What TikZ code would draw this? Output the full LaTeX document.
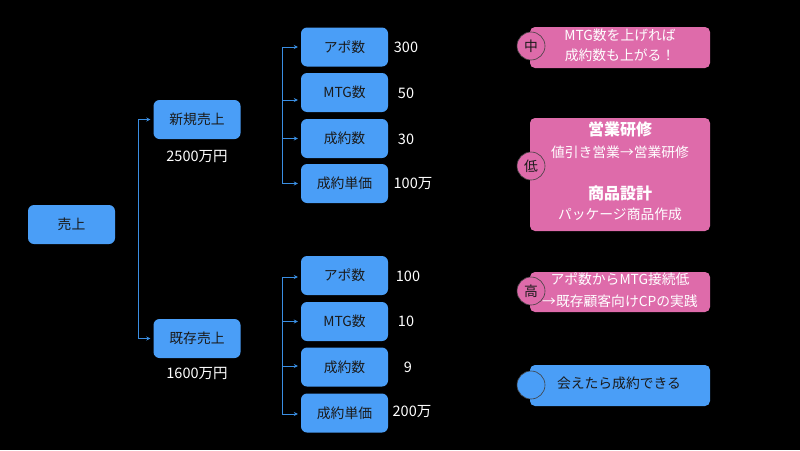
\documentclass[tikz,border=0pt]{standalone}
\usepackage{fontspec}
\setmainfont{Noto Sans CJK JP}
\usetikzlibrary{arrows.meta}
\definecolor{bx}{HTML}{4A9EF7}
\definecolor{ln}{HTML}{3A8EE2}
\definecolor{pk}{HTML}{DE6BAA}
\definecolor{dk}{HTML}{1A1A1A}
\tikzset{
  box/.style={fill=bx, rounded corners=6pt, minimum width=87pt, minimum height=39pt, inner sep=0pt, text=dk, font=\fontsize{13.8}{16}\selectfont},
  num/.style={text=white, inner sep=0pt, font=\fontsize{14.5}{17}\selectfont},
  note/.style={rounded corners=5pt, minimum width=180pt, inner sep=0pt},
  badge/.style={circle, minimum size=28pt, inner sep=0pt, draw=black!75, line width=0.6pt, text=dk, font=\fontsize{13.8}{16}\selectfont},
  wtxt/.style={text=white, inner sep=0pt, font=\fontsize{13.8}{16}\selectfont},
  btxt/.style={text=white, inner sep=0pt, font=\fontsize{16}{19}\bfseries\selectfont},
  bline/.style={draw=ln, line width=0.8pt},
  arr/.style={draw=ln, line width=0.8pt, -{Stealth[length=4pt,width=4pt]}, shorten >=3pt},
}
\begin{document}
\begin{tikzpicture}[x=1pt,y=-1pt]
\fill[black] (0,0) rectangle (800,450);
\useasboundingbox (0,0) rectangle (800,450);

% left tree
\node[box] (root) at (71.5,224.5) {売上};
\node[box] (new) at (197,119.5) {新規売上};
\node[box] (old) at (197,338.5) {既存売上};
\node[num] (newv) at (197,156) {2500万円};
\node[num] (oldv) at (197,373) {1600万円};

\coordinate (ra) at (138,119.5);
\coordinate (rb) at (138,338.5);
\draw[bline] (ra) -- (rb);
\draw[arr] (ra) -- (new.west);
\draw[arr] (rb) -- (old.west);

% top group
\node[box] (a1) at (344.5,47) {アポ数};
\node[box] (m1) at (344.5,92.5) {MTG数};
\node[box] (s1) at (344.5,138.5) {成約数};
\node[box] (p1) at (344.5,183.5) {成約単価};
\node[num] (a1v) at (406,47) {300};
\node[num] (m1v) at (406,93) {50};
\node[num] (s1v) at (406,139) {30};
\node[num] (p1v) at (413,184) {100万};

\coordinate (ta) at (282,47);
\coordinate (tm) at (282,100);
\coordinate (ts) at (282,138.5);
\coordinate (tp) at (282,183.5);
\draw[bline] (ta) -- (tp);
\draw[arr] (ta) -- (a1.west);
\draw[arr] (tm) -- (m1.west |- tm);
\draw[arr] (ts) -- (s1.west);
\draw[arr] (tp) -- (p1.west);

% bottom group
\node[box] (a2) at (344.5,275.5) {アポ数};
\node[box] (m2) at (344.5,321.5) {MTG数};
\node[box] (s2) at (344.5,367) {成約数};
\node[box] (p2) at (344.5,413) {成約単価};
\node[num] (a2v) at (408,276) {100};
\node[num] (m2v) at (406,321) {10};
\node[num] (s2v) at (408,367) {9};
\node[num] (p2v) at (412,412) {200万};

\coordinate (ba) at (282,277);
\coordinate (bm) at (282,321.5);
\coordinate (bs) at (282,366);
\coordinate (bp) at (282,414);
\draw[bline] (ba) -- (bp);
\draw[arr] (ba) -- (a2.west |- ba);
\draw[arr] (bm) -- (m2.west);
\draw[arr] (bs) -- (s2.west |- bs);
\draw[arr] (bp) -- (p2.west |- bp);

% notes
\node[note, fill=pk, minimum height=41pt] (n1) at (620,47.5) {};
\node[badge, fill=pk] (c1) at (531,46) {中};
\node[wtxt] (n1a) at (620,35) {MTG数を上げれば};
\node[wtxt] (n1b) at (620,55) {成約数も上がる！};

\node[note, fill=pk, minimum height=113pt] (n2) at (620,174.5) {};
\node[badge, fill=pk] (c2) at (531,166) {低};
\node[btxt] (n2a) at (620,129) {営業研修};
\node[wtxt] (n2b) at (620,152) {値引き営業→営業研修};
\node[btxt] (n2c) at (620,193) {商品設計};
\node[wtxt] (n2d) at (620,214) {パッケージ商品作成};

\node[note, fill=pk, minimum height=40pt] (n3) at (620,292) {};
\node[badge, fill=pk] (c3) at (531,291) {高};
\node[wtxt] (n3a) at (620,279) {アポ数からMTG接続低};
\node[wtxt] (n3b) at (620,301) {→既存顧客向けCPの実践};

\node[note, fill=bx, minimum height=41pt] (n4) at (620,385.5) {};
\node[badge, fill=bx] (c4) at (531,385) {};
\node[text=dk, inner sep=0pt, font=\fontsize{13.8}{16}\selectfont] (n4a) at (619,383) {会えたら成約できる};
\end{tikzpicture}
\end{document}
